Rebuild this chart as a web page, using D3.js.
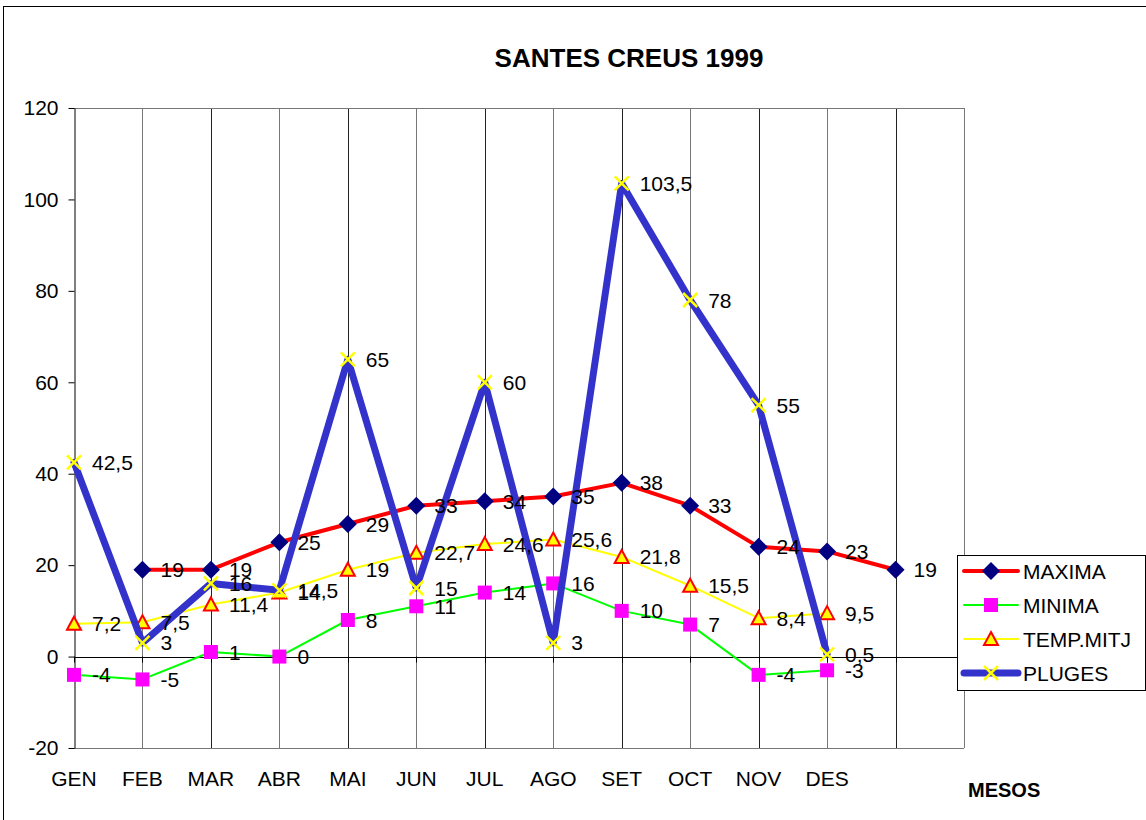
<!DOCTYPE html>
<html>
<head>
<meta charset="utf-8">
<script src="https://cdn.jsdelivr.net/npm/d3@7"></script>
<style>
  body { margin: 0; background: #fff; }
  text { font-family: "Liberation Sans", Arial, sans-serif; }
</style>
</head>
<body>
<div id="container"></div>
<script>
// Data
const months = ["GEN", "FEB", "MAR", "ABR", "MAI", "JUN", "JUL", "AGO", "SET", "OCT", "NOV", "DES", ""];
const maxima = [null, 19, 19, 25, 29, 33, 34, 35, 38, 33, 24, 23, 19];
const minima = [-4, -5, 1, 0, 8, 11, 14, 16, 10, 7, -4, -3];
const tempMitj = [7.2, 7.5, 11.4, 14, 19, 22.7, 24.6, 25.6, 21.8, 15.5, 8.4, 9.5];
const pluges = [42.5, 3, 16, 14.5, 65, 15, 60, 3, 103.5, 78, 55, 0.5];
const yTicks = [-20, 0, 20, 40, 60, 80, 100, 120];

const width = 1146, height = 820;
const plot = { left: 74, right: 964, top: 108, bottom: 748 };
const fs = 21;

const x = d3.scaleLinear().domain([0, months.length]).range([plot.left, plot.right]);
const y = d3.scaleLinear().domain([-20, 120]).range([plot.bottom, plot.top]);

const svg = d3.select("#container").append("svg")
    .attr("width", width)
    .attr("height", height);

// outer frame
svg.append("rect")
    .attr("x", 3.5).attr("y", 6.5)
    .attr("width", width).attr("height", height)
    .attr("fill", "none").attr("stroke", "#000").attr("stroke-width", 1);

// title
svg.append("text")
    .attr("x", 629).attr("y", 67)
    .attr("text-anchor", "middle")
    .attr("font-size", 26).attr("font-weight", "bold")
    .text("SANTES CREUS 1999");

// vertical grid lines
svg.append("g")
    .selectAll("line")
    .data(d3.range(1, months.length + 1))
    .join("line")
    .attr("x1", d => Math.round(x(d)) + 0.5)
    .attr("x2", d => Math.round(x(d)) + 0.5)
    .attr("y1", plot.top).attr("y2", plot.bottom)
    .attr("stroke", (d, i) => i % 2 ? "#222" : "#777")
    .attr("stroke-width", 1);

// top and bottom borders
svg.append("line")
    .attr("x1", plot.left).attr("x2", plot.right)
    .attr("y1", plot.top + 0.5).attr("y2", plot.top + 0.5)
    .attr("stroke", "#777");
svg.append("line")
    .attr("x1", plot.left).attr("x2", plot.right)
    .attr("y1", plot.bottom + 0.5).attr("y2", plot.bottom + 0.5)
    .attr("stroke", "#777");

// y axis
const yAxis = svg.append("g")
    .attr("transform", `translate(${plot.left + 0.5},0)`)
    .call(d3.axisLeft(y).tickValues(yTicks).tickFormat(d => String(d))
        .tickSize(6).tickPadding(10).tickSizeOuter(0));
yAxis.select(".domain").attr("stroke", "#000");
yAxis.selectAll(".tick line").attr("stroke", "#000");
yAxis.selectAll(".tick text")
    .attr("font-size", fs)
    .attr("font-family", "Liberation Sans, Arial, sans-serif")
    .attr("fill", "#000");

// zero line with category ticks
svg.append("line")
    .attr("x1", plot.left).attr("x2", plot.right)
    .attr("y1", Math.round(y(0)) + 0.5).attr("y2", Math.round(y(0)) + 0.5)
    .attr("stroke", "#000");
svg.append("g")
    .selectAll("line")
    .data(d3.range(0, months.length + 1))
    .join("line")
    .attr("x1", d => Math.round(x(d)) + 0.5)
    .attr("x2", d => Math.round(x(d)) + 0.5)
    .attr("y1", y(0)).attr("y2", y(0) + 6)
    .attr("stroke", "#000");

// x labels
svg.append("g")
    .selectAll("text")
    .data(months)
    .join("text")
    .attr("x", (d, i) => x(i))
    .attr("y", 786)
    .attr("text-anchor", "middle")
    .attr("font-size", fs)
    .text(d => d);

svg.append("text")
    .attr("x", 968).attr("y", 797)
    .attr("font-size", 20).attr("font-weight", "bold")
    .text("MESOS");

// series
const series = [
    { name: "MAXIMA", values: maxima, color: "#ff0000", width: 4, marker: "diamond" },
    { name: "MINIMA", values: minima, color: "#00ff00", width: 2, marker: "square" },
    { name: "TEMP.MITJ", values: tempMitj, color: "#ffff00", width: 2, marker: "triangle" },
    { name: "PLUGES", values: pluges, color: "#3333cc", width: 7, marker: "cross" }
];

function drawMarker(g, type) {
    if (type === "diamond") {
        g.append("path").attr("d", "M0,-9L9,0L0,9L-9,0Z").attr("fill", "#000080");
    } else if (type === "square") {
        g.append("rect").attr("x", -7).attr("y", -7).attr("width", 14).attr("height", 14).attr("fill", "#ff00ff");
    } else if (type === "triangle") {
        g.append("path").attr("d", "M0,-7L7,6L-7,6Z")
            .attr("fill", "#ffff00").attr("stroke", "#ff0000").attr("stroke-width", 2);
    } else {
        g.append("path").attr("d", "M-7,-7L7,7M-7,7L7,-7")
            .attr("stroke", "#ffff00").attr("stroke-width", 2.5);
    }
}

const line = d3.line()
    .defined(d => d != null)
    .x((d, i) => x(i))
    .y(d => y(d));

const fmt = v => String(v).replace(".", ",");

series.forEach(s => {
    const g = svg.append("g");
    g.append("path")
        .datum(s.values)
        .attr("d", line)
        .attr("fill", "none")
        .attr("stroke", s.color)
        .attr("stroke-width", s.width)
        .attr("stroke-linejoin", "round")
        .attr("stroke-linecap", "round");
    s.values.forEach((v, i) => {
        if (v == null) return;
        const m = g.append("g").attr("transform", `translate(${x(i)},${y(v)})`);
        drawMarker(m, s.marker);
    });
});

// data labels
series.forEach(s => {
    svg.append("g")
        .selectAll("text")
        .data(s.values.map((v, i) => ({ v, i })).filter(d => d.v != null))
        .join("text")
        .attr("x", d => x(d.i) + 18)
        .attr("y", d => y(d.v))
        .attr("dy", "0.36em")
        .attr("font-size", fs)
        .text(d => fmt(d.v));
});

// legend
const legend = svg.append("g");
legend.append("rect")
    .attr("x", 957.5).attr("y", 555.5)
    .attr("width", 188).attr("height", 135)
    .attr("fill", "#fff").attr("stroke", "#000");
series.forEach((s, k) => {
    const ly = 571 + k * 34;
    const item = legend.append("g");
    item.append("line")
        .attr("x1", 964).attr("x2", 1018)
        .attr("y1", ly).attr("y2", ly)
        .attr("stroke", s.color)
        .attr("stroke-width", s.width)
        .attr("stroke-linecap", "round");
    drawMarker(item.append("g").attr("transform", `translate(991,${ly})`), s.marker);
    item.append("text")
        .attr("x", 1023).attr("y", ly)
        .attr("dy", "0.36em")
        .attr("font-size", fs)
        .text(s.name);
});
</script>
</body>
</html>
